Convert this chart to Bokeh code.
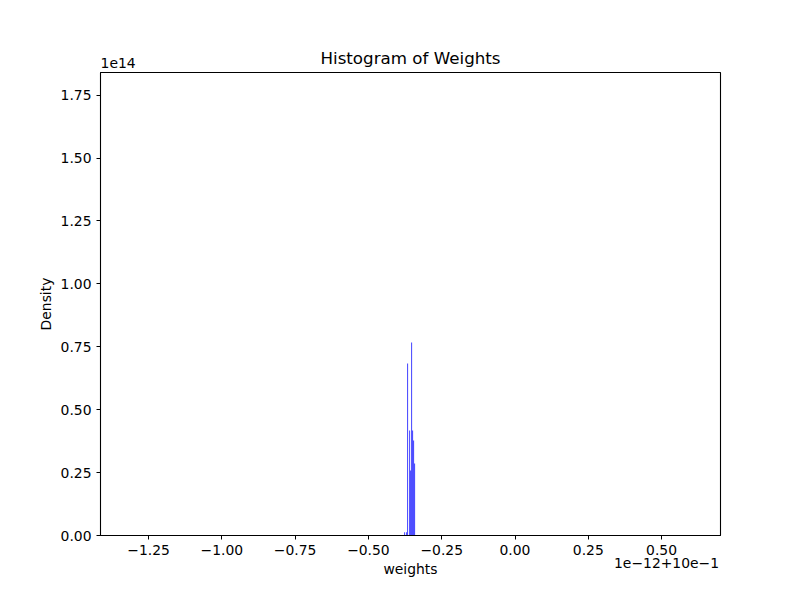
from bokeh.plotting import figure
from bokeh.models import Range1d, FixedTicker, LinearAxis
from bokeh.embed import file_html
from bokeh.resources import INLINE

# Histogram bins (x in axis units of 1e-12, offset +10e-1), density in units of 1e14
bin_left = [-0.3783, -0.3715, -0.3681, -0.3612, -0.3578, -0.3544, -0.3510, -0.3476, -0.3442]
bin_width = 0.0034
density_e14 = [0.013, 0.013, 0.684, 0.417, 0.258, 0.767, 0.417, 0.378, 0.286]

x_ticks = [-1.25, -1.0, -0.75, -0.5, -0.25, 0.0, 0.25, 0.5]
x_tick_labels = ["\u22121.25", "\u22121.00", "\u22120.75", "\u22120.50", "\u22120.25", "0.00", "0.25", "0.50"]
y_ticks = [0.0, 0.25, 0.5, 0.75, 1.0, 1.25, 1.5, 1.75]
y_tick_labels = ["0.00", "0.25", "0.50", "0.75", "1.00", "1.25", "1.50", "1.75"]

title_text = "Histogram of Weights"
x_label = "weights"
y_label = "Density"
y_offset_text = "1e14"
x_offset_text = "1e\u221212+10e\u22121"

FONT = "DejaVu Sans"
TICK_PX = "13.9px"

p = figure(width=784, height=584, output_backend="svg", toolbar_location=None,
           x_range=Range1d(-1.414, 0.701), y_range=Range1d(0, 1.84),
           min_border_left=100, min_border_right=64, min_border_top=72, min_border_bottom=49,
           frame_width=620, frame_height=463)

rights = [l + bin_width for l in bin_left]
p.quad(left=bin_left, right=rights, bottom=0, top=density_e14,
       fill_color="blue", fill_alpha=0.75, line_color=None)

p.grid.visible = False
p.outline_line_color = "black"
p.outline_line_alpha = 1.0
p.outline_line_width = 1.1
p.background_fill_color = "white"
p.border_fill_color = "white"


def style(ax):
    ax.axis_line_color = "black"
    ax.major_tick_line_color = "black"
    ax.major_tick_out = 4
    ax.major_tick_in = 0
    ax.minor_tick_line_color = None
    ax.major_label_text_font = FONT
    ax.major_label_text_font_size = TICK_PX
    ax.major_label_text_color = "black"
    ax.axis_label_text_font = FONT
    ax.axis_label_text_font_size = TICK_PX
    ax.axis_label_text_font_style = "normal"
    ax.axis_label_text_color = "black"
    ax.major_label_standoff = 5


style(p.xaxis[0])
style(p.yaxis[0])
p.xaxis[0].ticker = FixedTicker(ticks=x_ticks)
p.xaxis[0].major_label_overrides = {t: s for t, s in zip(x_ticks, x_tick_labels)}
p.yaxis[0].ticker = FixedTicker(ticks=y_ticks)
p.yaxis[0].major_label_overrides = {t: s for t, s in zip(y_ticks, y_tick_labels)}
p.yaxis[0].axis_label = y_label
p.yaxis[0].axis_label_standoff = 4

# top: offset text "1e14" (as tick label near the left edge) + title (as axis label)
top_pos = -1.354
top_ax = LinearAxis(ticker=FixedTicker(ticks=[top_pos]))
style(top_ax)
top_ax.axis_line_color = None
top_ax.major_tick_line_color = None
top_ax.major_tick_out = 0
top_ax.major_label_standoff = 5
top_ax.major_label_overrides = {top_pos: y_offset_text}
top_ax.axis_label = title_text
top_ax.axis_label_text_font_size = "16.7px"
top_ax.axis_label_standoff = -13
p.add_layout(top_ax, "above")

# bottom: offset text at the right + x label
bot_pos = 0.517
bot_ax = LinearAxis(ticker=FixedTicker(ticks=[bot_pos]))
style(bot_ax)
bot_ax.axis_line_color = None
bot_ax.major_tick_line_color = None
bot_ax.major_tick_out = 0
bot_ax.major_label_standoff = 0
bot_ax.major_label_overrides = {bot_pos: x_offset_text}
bot_ax.axis_label = x_label
bot_ax.axis_label_standoff = -10
p.add_layout(bot_ax, "below")

open("out.html", "w").write(file_html(p, INLINE))
